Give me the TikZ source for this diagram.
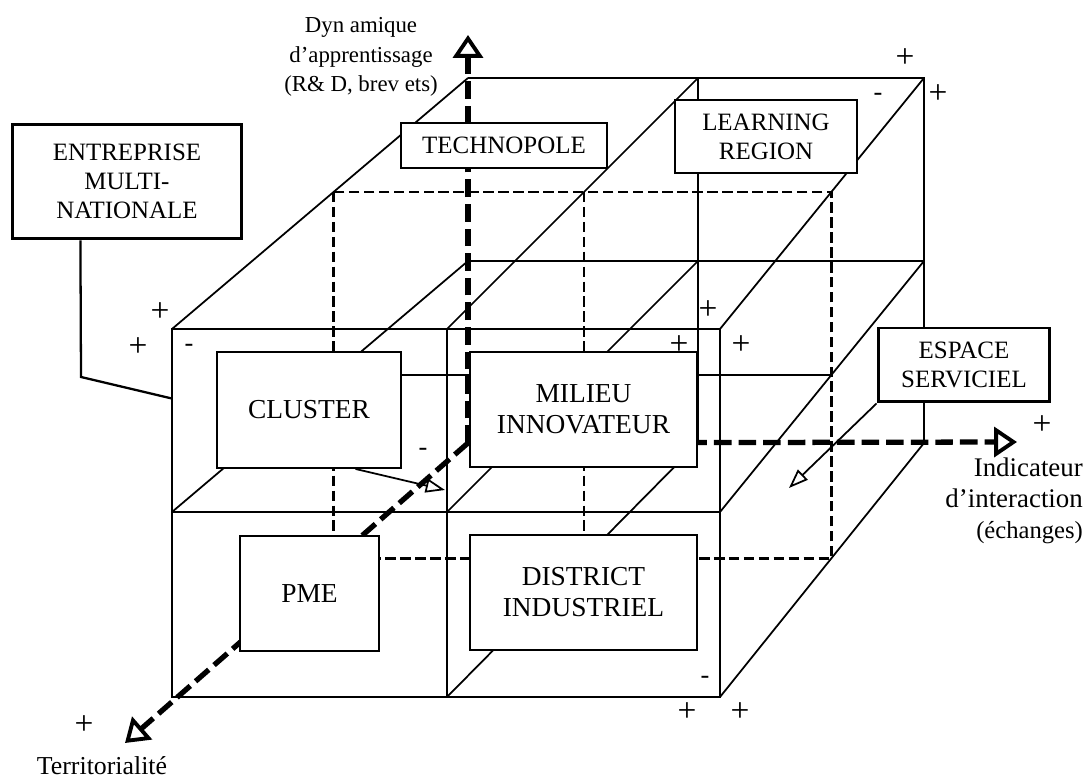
\documentclass[tikz,border=0pt]{standalone}
\usepackage{fontspec}
\setmainfont{Liberation Serif}
\usetikzlibrary{arrows.meta,calc}

\tikzset{
  grid/.style={line width=1pt},
  layer/.style={line width=1.4pt, dash pattern=on 6pt off 2.5pt},
  axis/.style={line width=3pt, dash pattern=on 10pt off 4pt,
    -{Triangle[open,length=13pt,width=17pt,line width=2.2pt]}},
  pointer/.style={line width=1pt, -{Triangle[open,length=11pt,width=8pt,line width=1pt]}},
  cell/.style={draw, fill=white, line width=1.1pt, inner sep=0pt, align=center,
    font=\fontsize{15.6}{17.6}\selectfont},
  tag/.style={draw, fill=white, line width=1.1pt, inner sep=0pt, align=center,
    font=\fontsize{14.2}{16.4}\selectfont},
  sign/.style={inner sep=0pt, font=\fontsize{19}{19}\selectfont}
}

\begin{document}
\begin{tikzpicture}[x=0.02cm, y=-0.02cm]
    \useasboundingbox (0,0) rectangle (1090,780);

    % Corners of the front and back faces
    \coordinate (fTL) at (172,329); \coordinate (fTM) at (447,329); \coordinate (fTR) at (720,329);
    \coordinate (fML) at (172,512); \coordinate (fMM) at (447,512); \coordinate (fMR) at (720,512);
    \coordinate (fBL) at (172,697); \coordinate (fBM) at (447,697); \coordinate (fBR) at (720,697);
    \coordinate (bTL) at (468,78);  \coordinate (bTM) at (698,78);  \coordinate (bTR) at (924,78);
    \coordinate (bML) at (468,261); \coordinate (bMM) at (698,261); \coordinate (bMR) at (924,261);
    \coordinate (bBL) at (468,443); \coordinate (bBM) at (698,443); \coordinate (bBR) at (924,443);
    \foreach \p in {TL,TM,TR,ML,MM,MR,BL,BM,BR}
        \coordinate (m\p) at ($(f\p)!0.546!(b\p)$);

    % Front face
    \draw[grid] (fTL) rectangle (fBR);
    \draw[grid] (fTM) -- (fBM);
    \draw[grid] (fML) -- (fMR);
    % Back face
    \draw[grid] (bTL) -- (bTR) -- (bBR);
    \draw[grid] (bTM) -- (bBM);
    \draw[grid] (bML) -- (bMR);
    % Depth edges
    \foreach \p in {TL,TM,TR,ML,MM,MR,BM,BR}
        \draw[grid] (f\p) -- (b\p);
    % Middle layer
    \draw[layer] (mTL) rectangle (mBR);
    \draw[layer] (mTM) -- (mBM);
    \draw[grid] (mML) -- (mMR);

    % Axes
    \coordinate (yEnd) at (468,35);
    \coordinate (xEnd) at (1017,442);
    \coordinate (zEnd) at (125,743);
    \draw[axis] (bBL) -- (yEnd);
    \draw[axis] (bBL) -- (xEnd);
    \draw[axis] (bBL) -- (zEnd);

    % Boxes
    \node[tag, line width=1.7pt, minimum width=4.6cm, minimum height=2.3cm] (entreprise) at (127,181.5)
        {ENTREPRISE\\MULTI-\\NATIONALE};
    \node[tag, minimum width=4.12cm, minimum height=0.9cm] (technopole) at (504,145.5) {TECHNOPOLE};
    \node[tag, minimum width=3.64cm, minimum height=1.46cm] (learning) at (766,136.5) {LEARNING\\REGION};
    \node[tag, line width=1.7pt, minimum width=3.44cm, minimum height=1.48cm] (espace) at (964,365)
        {ESPACE\\SERVICIEL};
    \node[cell, minimum width=3.68cm, minimum height=2.32cm] (cluster) at (309,410) {CLUSTER};
    \node[cell, minimum width=4.54cm, minimum height=2.3cm] (milieu) at (583.5,409.5) {MILIEU\\INNOVATEUR};
    \node[cell, minimum width=2.78cm, minimum height=2.3cm] (pme) at (309.5,593.5) {PME};
    \node[cell, minimum width=4.54cm, minimum height=2.3cm] (district) at (583.5,592.5) {DISTRICT\\INDUSTRIEL};

    % Links and pointers
    \coordinate (entBend) at (81,377);
    \coordinate (entEnd) at ($(fTL)!0.38!(fML)$);
    \draw[line width=1.3pt] ($(entreprise.south west)!0.3!(entreprise.south east)$) -- (entBend) -- (entEnd);
    \coordinate (clusterTip) at (445,490);
    \draw[pointer] ($(cluster.south west)!0.75!(cluster.south east)$) -- (clusterTip);
    \coordinate (espaceTip) at (789,488);
    \draw[pointer] (espace.south west) -- (espaceTip);

    % Axis labels
    \node[align=center, font=\fontsize{13}{17}\selectfont] (dynLbl) at (361,57)
        {Dyn amique\\d’apprentissage\\(R\& D, brev ets)};
    \node[align=right, anchor=east, font=\fontsize{15.3}{17.6}\selectfont] (interLbl) at (1089,501)
        {Indicateur\\d’interaction\\{\fontsize{14}{16}\selectfont(échanges)}};
    \node[font=\fontsize{14.7}{17}\selectfont] (terrLbl) at (102,766) {Territorialité};

    % Signs
    \foreach \p in {(160,312),(138,347),(905,58),(938,94),(708,310),(679,345),
                    (741,345),(1042,425),(687,712),(740,712),(84,725)}
        \node[sign] at \p {+};
    \foreach \p in {(189,348),(878,97),(423,452),(705,680)}
        \node[sign, font=\fontsize{15}{15}\selectfont] at \p {-};
\end{tikzpicture}
\end{document}
